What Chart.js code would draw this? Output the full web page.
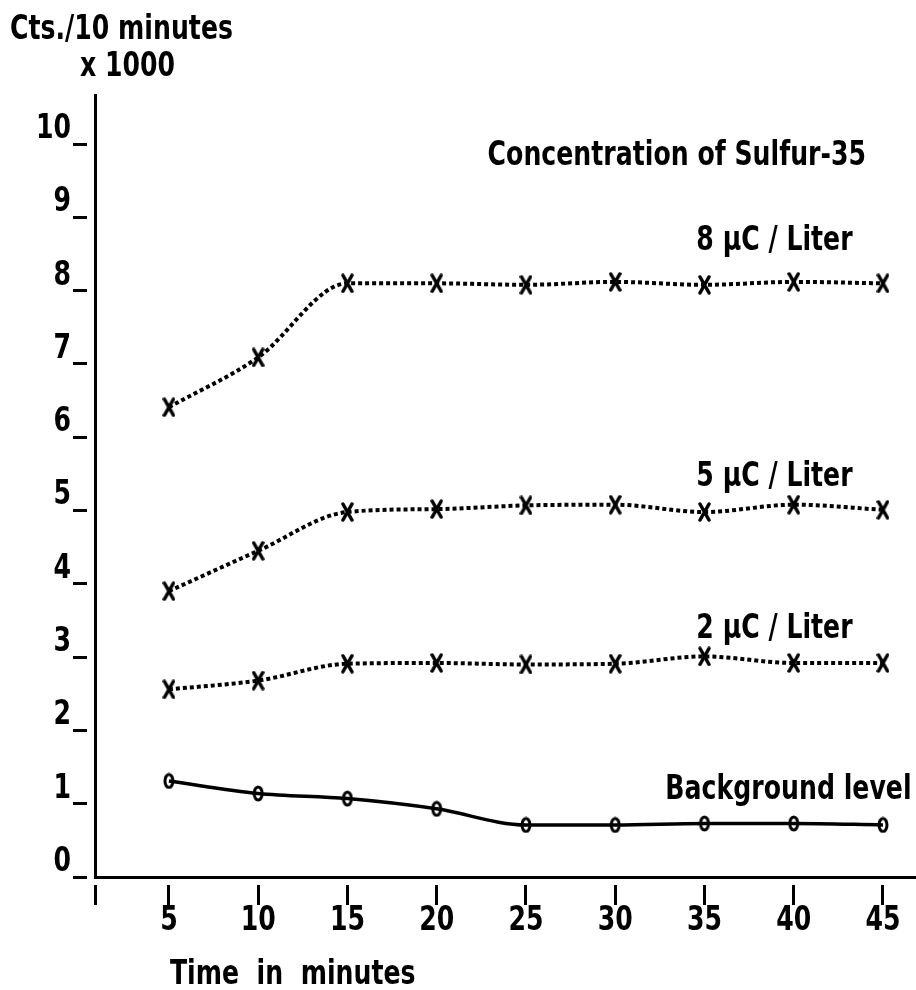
<!DOCTYPE html>
<html><head><meta charset="utf-8">
<script src="https://cdn.jsdelivr.net/npm/chart.js@4.4.0/dist/chart.umd.min.js"></script>
<style>html,body{margin:0;padding:0;background:#fff;overflow:hidden}#wrap{width:916px;height:990px;position:relative}canvas{display:block}</style>
</head><body><div id="wrap"><canvas id="c"></canvas></div>
<script>
// ---- data ----
const times = [5, 10, 15, 20, 25, 30, 35, 40, 45];
const xTickValues = [5, 10, 15, 20, 25, 30, 35, 40, 45];
const yTickValues = [0, 1, 2, 3, 4, 5, 6, 7, 8, 9, 10];
const conc8 = [6.41, 7.09, 8.10, 8.10, 8.08, 8.12, 8.08, 8.12, 8.10];
const conc5 = [3.90, 4.45, 4.98, 5.02, 5.07, 5.08, 4.98, 5.08, 5.01];
const conc2 = [2.56, 2.68, 2.91, 2.92, 2.90, 2.91, 3.01, 2.92, 2.92];
const background = [1.31, 1.14, 1.07, 0.93, 0.71, 0.71, 0.73, 0.73, 0.71];
const seriesNames = ['8 \u03bcC / Liter', '5 \u03bcC / Liter', '2 \u03bcC / Liter', 'Background level'];
const chartTitle = 'Concentration of Sulfur-35';
const yTitleLines = ['Cts./10 minutes', 'x 1000'];
const xTitle = 'Time  in  minutes';

function hasFont(name) {
  const c = document.createElement('canvas').getContext('2d');
  const s = 'Concentration 0123456789';
  c.font = '30px monospace'; const a = c.measureText(s).width;
  c.font = '30px "' + name + '", monospace'; const b = c.measureText(s).width;
  c.font = '30px serif'; const a2 = c.measureText(s).width;
  c.font = '30px "' + name + '", serif'; const b2 = c.measureText(s).width;
  return a !== b || a2 !== b2;
}
let FONT = 'DejaVu Sans Mono', FSIZE = 25;
if (hasFont('DejaVu Sans Condensed')) { FONT = 'DejaVu Sans Condensed'; FSIZE = 28; }
const SY = 1.22; // tall, narrow typewriter lettering

const X_MIN = 0.86, X_MAX = 46.85, Y_MIN = 0, Y_MAX = 10.67;

function makeCross(w, h, lw) {
  const c = document.createElement('canvas'); c.width = w; c.height = h;
  const g = c.getContext('2d'); g.strokeStyle = '#000'; g.lineWidth = lw; g.lineCap = 'round';
  g.beginPath(); g.moveTo(2, 2); g.lineTo(w - 2, h - 2); g.moveTo(w - 2, 2); g.lineTo(2, h - 2); g.stroke();
  return c;
}
function makeOval(w, h, lw) {
  const c = document.createElement('canvas'); c.width = w; c.height = h;
  const g = c.getContext('2d'); g.strokeStyle = '#000'; g.lineWidth = lw;
  g.beginPath(); g.ellipse(w / 2, h / 2, w / 2 - lw / 2 - 0.5, h / 2 - lw / 2 - 0.5, 0, 0, Math.PI * 2); g.stroke();
  return c;
}
const crossImg = makeCross(13, 20, 3.5);
const ovalImg = makeOval(12, 17, 3);

function pts(ys) { return times.map((t, i) => ({ x: t, y: ys[i] })); }
function dotted(label, ys) {
  return { label, data: pts(ys), borderColor: '#000', borderWidth: 4, borderDash: [4, 3],
    cubicInterpolationMode: 'monotone', pointStyle: crossImg, pointRadius: 8, fill: false };
}

// label anchors (right edge, vertical centre) in data units
const labelAnchors = [
  { text: chartTitle, x: 44.05, y: 9.84 },
  { text: seriesNames[0], x: 43.3, y: 8.68 },
  { text: seriesNames[1], x: 43.3, y: 5.45 },
  { text: seriesNames[2], x: 43.3, y: 3.38 },
  { text: seriesNames[3], x: 46.6, y: 1.18 }
];

function tallText(ctx, text, x, y, align) {
  ctx.save();
  ctx.translate(x, y); ctx.scale(1, SY);
  ctx.textAlign = align; ctx.textBaseline = 'middle';
  ctx.fillText(text, 0, 0);
  ctx.restore();
}

// draw the scales' own tick labels with the same tall lettering
function tallLabels(chartArea) {
  const ctx = this.ctx;
  for (const it of this.getLabelItems(chartArea)) {
    const o = it.options;
    if (!it.label) continue;
    ctx.save();
    ctx.translate(o.translation[0], o.translation[1]);
    ctx.scale(1, SY);
    ctx.font = it.font.string; ctx.fillStyle = o.color;
    ctx.textAlign = o.textAlign; ctx.textBaseline = o.textBaseline;
    ctx.fillText(it.label, 0, it.textOffset);
    ctx.restore();
  }
}

const textPlugin = {
  id: 'texts',
  afterLayout(chart) {
    for (const id of ['x', 'y']) {
      const s = chart.scales[id];
      if (s && !s._tallPatched) { s.drawLabels = tallLabels; s._tallPatched = true; }
    }
  },
  afterDraw(chart) {
    const ctx = chart.ctx, xs = chart.scales.x, ys = chart.scales.y;
    ctx.save();
    ctx.fillStyle = '#000';
    ctx.font = 'bold ' + FSIZE + 'px "' + FONT + '"';
    labelAnchors.forEach(a => tallText(ctx, a.text, xs.getPixelForValue(a.x), ys.getPixelForValue(a.y), 'right'));
    tallText(ctx, yTitleLines[0], 10, 30, 'left');
    tallText(ctx, yTitleLines[1], 80, 67, 'left');
    tallText(ctx, xTitle, xs.getPixelForValue(5) + 1, 975, 'left');
    ctx.restore();
  }
};

const canvas = document.getElementById('c');
new Chart(canvas, {
  type: 'line',
  data: {
    datasets: [
      dotted(seriesNames[0], conc8),
      dotted(seriesNames[1], conc5),
      dotted(seriesNames[2], conc2),
      { label: seriesNames[3], data: pts(background), borderColor: '#000', borderWidth: 3.5,
        cubicInterpolationMode: 'monotone', pointStyle: ovalImg, pointRadius: 8, fill: false }
    ]
  },
  options: {
    responsive: true, maintainAspectRatio: false, animation: false,
    layout: { autoPadding: false, padding: { top: 95, right: 0, left: 0, bottom: 0 } },
    plugins: { legend: { display: false }, tooltip: { enabled: false }, title: { display: false } },
    scales: {
      x: {
        type: 'linear', min: X_MIN, max: X_MAX,
        afterBuildTicks: s => { s.ticks = [X_MIN].concat(xTickValues).map(v => ({ value: v })); },
        afterFit: s => { s.height = 113; s.paddingLeft = 0; s.paddingRight = 0; },
        border: { display: true, color: '#000', width: 3 },
        grid: { drawOnChartArea: false, drawTicks: true, color: '#000', tickLength: 28, lineWidth: 3,
          tickBorderDash: [22, 100], tickBorderDashOffset: 116 },
        ticks: { color: '#000', font: { family: FONT, size: FSIZE, weight: 'bold' }, padding: -4, labelOffset: 0,
          maxRotation: 0, autoSkip: false,
          callback: (v) => (xTickValues.includes(v) ? String(v) : '') }
      },
      y: {
        type: 'linear', min: Y_MIN, max: Y_MAX,
        afterBuildTicks: s => { s.ticks = yTickValues.map(v => ({ value: v })); },
        afterFit: s => { s.width = 95; s.paddingTop = 0; s.paddingBottom = 0; },
        border: { display: true, color: '#000', width: 3 },
        grid: { drawOnChartArea: false, drawTicks: true, color: '#000', tickLength: 22, lineWidth: 3,
          tickBorderDash: [14, 100] },
        ticks: { color: '#000', font: { family: FONT, size: FSIZE, weight: 'bold' }, padding: 2, labelOffset: -15,
          autoSkip: false, callback: (v) => String(v) }
      }
    }
  },
  plugins: [textPlugin]
});
</script></body></html>
